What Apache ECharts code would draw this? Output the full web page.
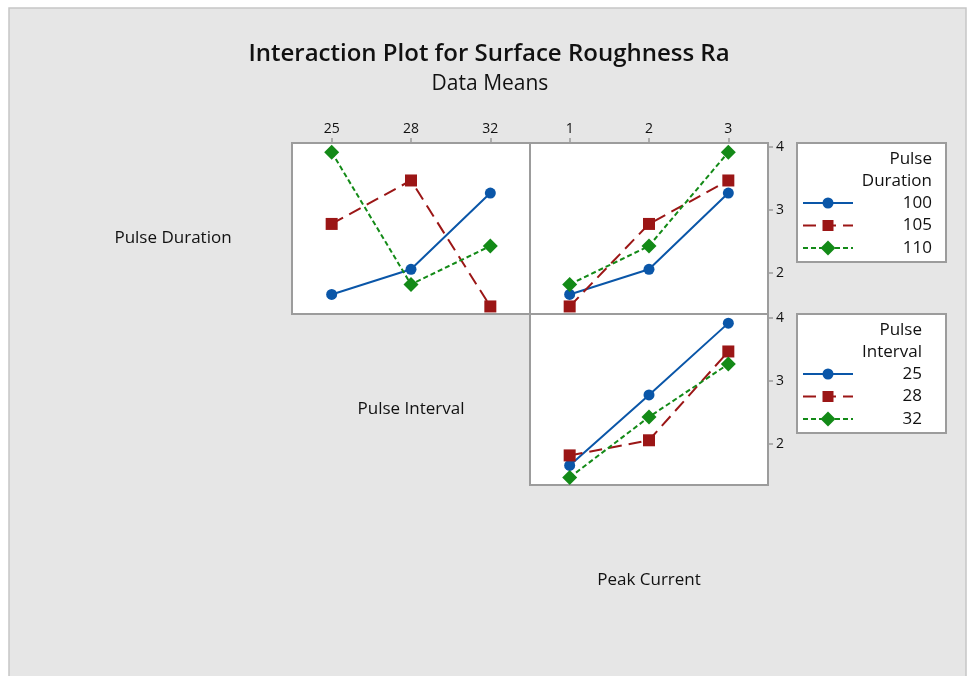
<!DOCTYPE html>
<html>
<head>
<meta charset="utf-8">
<style>
  html, body { margin: 0; padding: 0; background: #ffffff; }
  #chart { width: 968px; height: 676px; }
</style>
<script src="https://cdn.jsdelivr.net/npm/echarts@6/dist/echarts.min.js"></script>
</head>
<body>
<div id="chart"></div>
<script>
// ---- data ----
const pulseIntervalLevels = ['25', '28', '32'];
const peakCurrentLevels = ['1', '2', '3'];
const pulseDurationNames = ['100', '105', '110'];
const pulseIntervalNames = ['25', '28', '32'];

// Pulse Duration series vs Pulse Interval (top-left panel)
const pd100_byPI = [1.66, 2.06, 3.27];
const pd105_byPI = [2.78, 3.47, 1.47];
const pd110_byPI = [3.92, 1.82, 2.43];

// Pulse Duration series vs Peak Current (top-right panel)
const pd100_byPC = [1.66, 2.06, 3.27];
const pd105_byPC = [1.47, 2.78, 3.47];
const pd110_byPC = [1.82, 2.43, 3.92];

// Pulse Interval series vs Peak Current (bottom panel)
const pi25_byPC = [1.66, 2.78, 3.92];
const pi28_byPC = [1.82, 2.06, 3.47];
const pi32_byPC = [1.47, 2.43, 3.27];

const yTicks = [2, 3, 4];
const yMin = 1.35, yMax = 4.065;

// ---- styles ----
const FONT = '"Open Sans", "Noto Sans", sans-serif';
const C_BLUE = '#0a56a8', C_RED = '#9b1616', C_GREEN = '#138a17';
const styles = [
  { color: C_BLUE, type: 'solid', symbol: 'circle', size: 11 },
  { color: C_RED, type: [13, 7], symbol: 'rect', size: 12 },
  { color: C_GREEN, type: [5, 3], symbol: 'diamond', size: 15 }
];
const BORDER = '#9c9c9c';

const grids = [
  { left: 292, top: 143, width: 238, height: 171 },
  { left: 530, top: 143, width: 238, height: 171 },
  { left: 530, top: 314, width: 238, height: 171 }
].map(g => Object.assign(g, { show: true, backgroundColor: '#ffffff', borderColor: BORDER, borderWidth: 2 }));

function xAxis(gi, cats, showLabels) {
  return {
    type: 'category', gridIndex: gi, data: cats, position: 'top', boundaryGap: true,
    axisLine: { show: false },
    axisTick: { show: showLabels, alignWithLabel: true, length: 5, lineStyle: { color: BORDER, width: 1.5 } },
    axisLabel: { show: showLabels, margin: 7, fontFamily: FONT, fontSize: 14, fontWeight: 500, color: '#111' },
    splitLine: { show: false }
  };
}
function yAxis(gi, showLabels) {
  return {
    type: 'value', gridIndex: gi, min: yMin, max: yMax, position: 'right',
    axisLine: { show: false },
    axisTick: { show: showLabels, customValues: yTicks, length: 5, lineStyle: { color: BORDER, width: 1.5 } },
    axisLabel: { show: showLabels, customValues: yTicks, margin: 8, fontFamily: FONT, fontSize: 14, fontWeight: 500, color: '#111' },
    splitLine: { show: false }
  };
}

function mkSeries(name, data, si, gi) {
  const s = styles[si];
  return {
    name: name, type: 'line', xAxisIndex: gi, yAxisIndex: gi, data: data,
    symbol: s.symbol, symbolSize: s.size, showSymbol: true,
    lineStyle: { color: s.color, width: 2, type: s.type },
    itemStyle: { color: s.color },
    z: 3 + si, animation: false
  };
}

const series = [
  mkSeries(pulseDurationNames[0], pd100_byPI, 0, 0),
  mkSeries(pulseDurationNames[1], pd105_byPI, 1, 0),
  mkSeries(pulseDurationNames[2], pd110_byPI, 2, 0),
  mkSeries(pulseDurationNames[0], pd100_byPC, 0, 1),
  mkSeries(pulseDurationNames[1], pd105_byPC, 1, 1),
  mkSeries(pulseDurationNames[2], pd110_byPC, 2, 1),
  mkSeries(pulseIntervalNames[0], pi25_byPC, 0, 2),
  mkSeries(pulseIntervalNames[1], pi28_byPC, 1, 2),
  mkSeries(pulseIntervalNames[2], pi32_byPC, 2, 2)
];

// ---- legend boxes as graphics ----
function legendGraphic(x, y, w, h, title1, title2, names, textRight) {
  const els = [];
  els.push({ type: 'rect', shape: { x: x, y: y, width: w, height: h }, style: { fill: '#ffffff', stroke: BORDER, lineWidth: 2 }, z: 10 });
  els.push({ type: 'text', style: { text: title1, x: textRight, y: y + 16, align: 'right', verticalAlign: 'middle', font: '17px ' + FONT, fill: '#111' }, z: 11 });
  els.push({ type: 'text', style: { text: title2, x: textRight, y: y + 38, align: 'right', verticalAlign: 'middle', font: '17px ' + FONT, fill: '#111' }, z: 11 });
  names.forEach((n, i) => {
    const cy = y + 60 + i * 22.5;
    const s = styles[i];
    const dash = s.type === 'solid' ? null : s.type;
    els.push({ type: 'line', shape: { x1: x + 6, y1: cy, x2: x + 56, y2: cy }, style: { stroke: s.color, lineWidth: 2, lineDash: dash }, z: 11 });
    const cx = x + 31;
    let sym;
    if (s.symbol === 'circle') sym = { type: 'circle', shape: { cx: cx, cy: cy, r: 5.5 }, style: { fill: s.color }, z: 12 };
    else if (s.symbol === 'rect') sym = { type: 'rect', shape: { x: cx - 5.5, y: cy - 5.5, width: 11, height: 11 }, style: { fill: s.color }, z: 12 };
    else sym = { type: 'polygon', shape: { points: [[cx, cy - 7.5], [cx + 7.5, cy], [cx, cy + 7.5], [cx - 7.5, cy]] }, style: { fill: s.color }, z: 12 };
    els.push(sym);
    els.push({ type: 'text', style: { text: n, x: textRight, y: cy, align: 'right', verticalAlign: 'middle', font: '17px ' + FONT, fill: '#111' }, z: 11 });
  });
  return els;
}

const graphic = [
  { type: 'rect', shape: { x: 9, y: 8, width: 957, height: 672 }, style: { fill: '#e6e6e6', stroke: '#c6c6c6', lineWidth: 1.5 }, z: -10, silent: true },
  { type: 'text', style: { text: 'Pulse Duration', x: 173, y: 238, align: 'center', verticalAlign: 'middle', font: '17px ' + FONT, fill: '#111' } },
  { type: 'text', style: { text: 'Pulse Interval', x: 411, y: 409, align: 'center', verticalAlign: 'middle', font: '17px ' + FONT, fill: '#111' } },
  { type: 'text', style: { text: 'Peak Current', x: 649, y: 580, align: 'center', verticalAlign: 'middle', font: '17px ' + FONT, fill: '#111' } },
  { type: 'text', style: { text: 'Interaction Plot for Surface Roughness Ra', x: 489, y: 54, align: 'center', verticalAlign: 'middle', font: '600 24px ' + FONT, fill: '#111' } },
  { type: 'text', style: { text: 'Data Means', x: 490, y: 84, align: 'center', verticalAlign: 'middle', font: '21px ' + FONT, fill: '#111' } }
].concat(
  legendGraphic(797, 143, 149, 119, 'Pulse', 'Duration', pulseDurationNames, 932),
  legendGraphic(797, 314, 149, 119, 'Pulse', 'Interval', pulseIntervalNames, 922)
);

const chart = echarts.init(document.getElementById('chart'), null, { renderer: 'canvas' });
chart.setOption({
  animation: false,
  backgroundColor: 'transparent',
  grid: grids,
  xAxis: [xAxis(0, pulseIntervalLevels, true), xAxis(1, peakCurrentLevels, true), xAxis(2, peakCurrentLevels, false)],
  yAxis: [yAxis(0, false), yAxis(1, true), yAxis(2, true)],
  series: series,
  graphic: graphic
});
</script>
</body>
</html>
